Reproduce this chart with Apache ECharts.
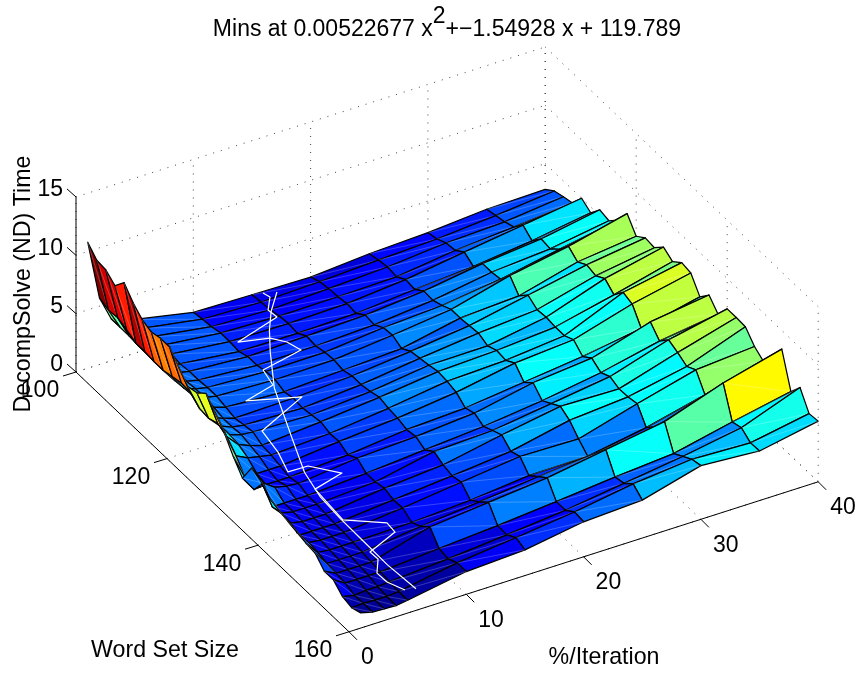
<!DOCTYPE html>
<html>
<head>
<meta charset="utf-8">
<style>html,body{margin:0;padding:0;background:#fff}#c{width:857px;height:673px}</style>
<script src="https://cdn.jsdelivr.net/npm/echarts@6/dist/echarts.min.js"></script>
</head>
<body>
<div id="c"></div>
<script>
// ---- data ----
const iterationValues = [1,2,3,4,5,10,15,20,25,30,35,40];
const wordSetSizes = [100,102,104,106,108,110,112,114,116,118,120,122,124,126,128,130,132,134,136,138,140,142,144,146,148,150,152,154,156,158,160];
const times = [
[10.8,5.7,3.6,3.1,2.9,1.9,1.8,1.7,2.1,2.3,2.7,2.8],
[10.0,5.4,3.6,3.1,2.9,2.05,1.9,2.05,2.3,2.5,2.9,3.4],
[9.9,5.5,3.6,3.1,2.9,2.15,2.0,2.2,2.45,2.9,3.1,3.65],
[9.3,5.2,3.5,3.1,2.9,2.35,2.2,2.25,2.35,3.0,3.4,3.85],
[10.3,4.8,3.5,3.1,2.9,2.35,2.3,2.4,2.85,3.6,4.3,5.0],
[9.3,4.8,3.5,3.1,2.8,2.25,2.2,2.3,2.75,3.1,3.7,4.5],
[8.6,4.7,3.5,3.1,2.9,2.55,2.7,2.9,3.35,4.1,4.6,5.5],
[8.3,4.7,3.5,3.1,2.9,2.55,2.6,2.8,3.3,4.1,4.5,5.3],
[8.5,4.9,3.6,3.2,3.0,2.75,2.8,3.3,3.6,4.25,5.2,6.1],
[8.5,5.1,3.7,3.2,3.0,2.8,2.9,3.4,4.0,5.3,6.2,7.4],
[7.5,5.0,3.5,3.1,2.8,2.5,2.75,3.0,4.0,4.3,5.6,6.2],
[6.6,4.4,3.3,2.9,2.6,2.7,3.0,3.5,4.1,5.1,6.1,6.8],
[6.8,4.3,3.3,2.9,2.75,2.6,3.0,3.65,4.2,4.6,5.9,6.7],
[7.5,4.6,3.3,3.0,2.9,2.75,3.15,3.8,3.85,4.7,6.4,7.5],
[6.6,4.2,3.2,2.8,2.5,2.9,3.4,4.0,4.2,4.6,5.75,7.0],
[5.6,3.3,2.8,2.6,2.4,2.65,3.2,3.9,4.1,4.6,6.7,7.65],
[4.3,2.2,2.2,2.2,2.2,2.7,3.1,3.7,4.6,5.0,6.45,7.5],
[3.2,1.9,2.0,2.0,2.0,2.3,2.85,3.1,3.7,4.3,5.1,6.2],
[4.8,3.2,2.5,2.3,2.2,2.75,3.0,3.4,4.4,4.9,6.4,7.1],
[4.5,1.9,1.9,1.9,1.9,2.2,2.6,3.0,3.6,4.4,5.5,6.2],
[3.7,2.1,1.9,1.9,1.9,2.2,3.2,3.4,4.1,4.8,6.35,7.4],
[3.4,2.0,1.8,1.8,1.8,2.4,2.8,3.76,4.6,4.5,6.0,7.4],
[3.2,1.7,1.7,1.7,1.7,2.15,2.6,3.1,4.15,4.55,5.55,7.35],
[3.0,1.8,1.7,1.7,1.7,2.2,2.8,3.4,3.3,4.7,6.0,6.4],
[2.8,1.7,1.6,1.6,1.6,1.7,2.0,2.5,2.55,3.4,4.6,5.85],
[2.7,1.5,1.5,1.5,1.5,2.1,2.6,3.15,3.6,4.2,5.8,5.7],
[1.9,1.4,1.4,1.4,1.4,2.8,3.3,3.8,4.6,5.4,7.1,8.4],
[1.9,1.3,1.3,1.3,1.3,1.7,2.05,2.5,3.0,3.4,4.5,5.5],
[1.2,1.0,1.1,1.1,1.2,1.55,2.0,2.5,3.2,3.9,4.75,6.6],
[1.0,1.05,1.0,1.0,1.1,1.95,2.5,3.1,3.9,4.4,4.2,5.1],
[1.3,1.05,1.0,0.95,1.1,1.95,2.2,3.0,3.25,4.6,4.25,5.2]
];
const minsIteration = [15.94,15.76,14.82,14.81,10.71,12.66,13.33,13.75,9.74,9.81,6.73,10.73,5.77,6.36,5.66,6.59,8.71,5.64,5.69,8.67,8.58,5.67,5.58,4.71,4.79,4.77];
const minsWordSize  = [100,102,104,106,108,110,112,114,116,118,120,122,126,128,132,134,136,138,144,146,148,150,152,154,156,160];
const minsTime      = [1.65,2.1,2.03,2.18,2.09,2.55,2.74,2.66,2.98,2.41,2.78,2.58,2.74,1.48,1.49,2.44,1.9,2.25,1.82,1.35,1.34,1.3,1.48,1.29,1.24,2.05];
const fitIteration = [17.13,14.7,12.61,10.74,9.15,7.8,6.71,5.9,5.33,5.04,5.0,5.22,5.71];
const fitWordSize  = [100,105,110,115,120,125,130,135,140,145,150,155,160];
const fitTime      = [1.35,2.35,3.25,3.83,3.1,3.7,3.5,2.5,2.4,2.55,2.55,2.2,1.85];
const xTicks = [0,10,20,30,40];
const yTicks = [100,120,140,160];
const zTicks = [0,5,10,15];
const titleParts = ['Mins at 0.00522677 x','2','+\u22121.54928 x + 119.789'];
const xName = '%/Iteration', yName = 'Word Set Size', zName = 'DecompSolve (ND) Time';

// ---- view ----
const FONT = '"Liberation Sans", Arial, sans-serif';
const O = [76, 372], UX = [11.73, -3.75], UY = [4.55, 4.33], UZ = 11.67;
const CMIN = 0.8, CMAX = 10.8;
function proj(x, y, z) {
  const d = y - 100;
  return [O[0] + UX[0]*x + UY[0]*d, O[1] + UX[1]*x + UY[1]*d - UZ*z];
}
function jet(v) {
  let t = (v - CMIN) / (CMAX - CMIN);
  t = Math.max(0, Math.min(1, t));
  const c = f => Math.round(255*Math.max(0, Math.min(1, f)));
  return 'rgb(' + c(Math.min(4*t-1.5, -4*t+4.5)) + ',' + c(Math.min(4*t-0.5, -4*t+3.5)) + ',' + c(Math.min(4*t+0.5, -4*t+2.5)) + ')';
}
const XMAX = xTicks[xTicks.length-1], YMIN = yTicks[0], YMAX = yTicks[yTicks.length-1], ZMAX = zTicks[zTicks.length-1];

// grid lines on the floor and the two back walls
const gridSegs = [];
xTicks.forEach(x => {
  gridSegs.push([x,YMIN,0,x,YMAX,0]);
  gridSegs.push([x,YMIN,0,x,YMIN,ZMAX]);
});
yTicks.forEach(y => {
  gridSegs.push([0,y,0,XMAX,y,0]);
  gridSegs.push([XMAX,y,0,XMAX,y,ZMAX]);
});
zTicks.forEach(z => {
  gridSegs.push([0,YMIN,z,XMAX,YMIN,z]);
  gridSegs.push([XMAX,YMIN,z,XMAX,YMAX,z]);
});
// back-to-front cell order
const cells = [];
for (let r = 0; r < wordSetSizes.length-1; r++)
  for (let c = iterationValues.length-2; c >= 0; c--) cells.push([c, r]);

function toPx(api, x, y, z) { return api.coord(proj(x, y, z)); }

const seriesGrid = {
  type:'custom', coordinateSystem:'cartesian2d', silent:true, clip:false, z:1, data:gridSegs,
  renderItem(p, api) {
    const a = toPx(api, api.value(0), api.value(1), api.value(2));
    const b = toPx(api, api.value(3), api.value(4), api.value(5));
    return {type:'line', shape:{x1:a[0],y1:a[1],x2:b[0],y2:b[1]},
      style:{stroke:'#444', lineWidth:1, lineDash:[1,7]}};
  }
};
const seriesSurface = {
  type:'custom', coordinateSystem:'cartesian2d', silent:true, clip:false, z:2, data:cells,
  renderItem(p, api) {
    const c = api.value(0), r = api.value(1);
    const x0 = iterationValues[c], x1 = iterationValues[c+1], y0 = wordSetSizes[r], y1 = wordSetSizes[r+1];
    const a = toPx(api, x0, y0, times[r][c]), b = toPx(api, x1, y0, times[r][c+1]);
    const d = toPx(api, x1, y1, times[r+1][c+1]), e = toPx(api, x0, y1, times[r+1][c]);
    return {type:'group', children:[
      {type:'polygon', shape:{points:[a,b,d,e]},
        style:{fill:jet(times[r][c]), stroke:'#000', lineWidth:1.25, lineJoin:'round'}},
      {type:'line', shape:{x1:a[0],y1:a[1],x2:d[0],y2:d[1]},
        style:{stroke:'rgba(255,255,255,0.22)', lineWidth:1}}
    ]};
  }
};
function whiteLine(xs, ys, zs, zl) {
  return {type:'custom', coordinateSystem:'cartesian2d', silent:true, clip:false, z:zl, data:[[0]],
    renderItem(p, api) {
      return {type:'polyline', shape:{points:xs.map((x,i)=>toPx(api, x, ys[i], zs[i]))},
        style:{stroke:'#fff', lineWidth:1.2, fill:null, lineJoin:'round'}};
    }};
}
// axis lines, ticks, tick labels
const axisItems = [];
[[0,YMIN,0,0,YMIN,ZMAX],[0,YMIN,0,0,YMAX,0],[0,YMAX,0,XMAX,YMAX,0]].forEach(s=>axisItems.push({seg:s}));
const seriesAxes = {
  type:'custom', coordinateSystem:'cartesian2d', silent:true, clip:false, z:4, data:[[0]],
  renderItem(p, api) {
    const ch = [];
    const line = (a,b)=>ch.push({type:'line',shape:{x1:a[0],y1:a[1],x2:b[0],y2:b[1]},style:{stroke:'#000',lineWidth:1}});
    const text = (s,q,dx,dy,align)=>ch.push({type:'text',x:q[0]+dx,y:q[1]+dy,style:{text:String(s),font:'23px '+FONT,fill:'#000',align:align,verticalAlign:'middle'}});
    axisItems.forEach(it=>{const s=it.seg;line(toPx(api,s[0],s[1],s[2]),toPx(api,s[3],s[4],s[5]));});
    zTicks.forEach(z=>{const q=toPx(api,0,YMIN,z);line(q,[q[0]-9,q[1]-8]);text(z,q,-13,-7,'right');});
    yTicks.forEach(y=>{const q=toPx(api,0,y,0);line(q,[q[0]-13,q[1]+4]);text(y,q,-36,19,'center');});
    xTicks.forEach(x=>{const q=toPx(api,x,YMAX,0);line(q,[q[0]+8,q[1]+8]);text(x,q,12,26,'left');});
    const tx = (s,x,y,rot)=>ch.push({type:'text',x:x,y:y,rotation:rot||0,style:{text:s,font:'23.2px '+FONT,fill:'#000',align:'center',verticalAlign:'middle'}});
    const n = api.coord([165,651]); tx(yName,n[0],n[1]);
    const m = api.coord([604,658]); tx(xName,m[0],m[1]);
    const k = api.coord([24,284]); tx(zName,k[0],k[1],Math.PI/2);
    return {type:'group',children:ch};
  }
};
const chart = echarts.init(document.getElementById('c'), null, {renderer:'canvas'});
chart.setOption({
  animation:false,
  backgroundColor:'#fff',
  title:{
    text:'{a|'+titleParts[0]+'}{s|'+titleParts[1]+'}{a|'+titleParts[2]+'}',
    left:442, top:0, textAlign:'center',
    textStyle:{fontWeight:'normal',rich:{
      a:{fontFamily:FONT,fontWeight:'normal',fontSize:23,color:'#000',lineHeight:36,verticalAlign:'bottom'},
      s:{fontFamily:FONT,fontWeight:'normal',fontSize:23,color:'#000',lineHeight:36,verticalAlign:'top',padding:[0,0,10,0]}
    }}
  },
  grid:{left:0,right:0,top:0,bottom:0},
  xAxis:{type:'value',min:0,max:857,show:false},
  yAxis:{type:'value',min:0,max:673,inverse:true,show:false},
  series:[seriesGrid, seriesSurface,
    whiteLine(minsIteration,minsWordSize,minsTime,3),
    whiteLine(fitIteration,fitWordSize,fitTime,3),
    seriesAxes]
});
</script>
</body>
</html>
